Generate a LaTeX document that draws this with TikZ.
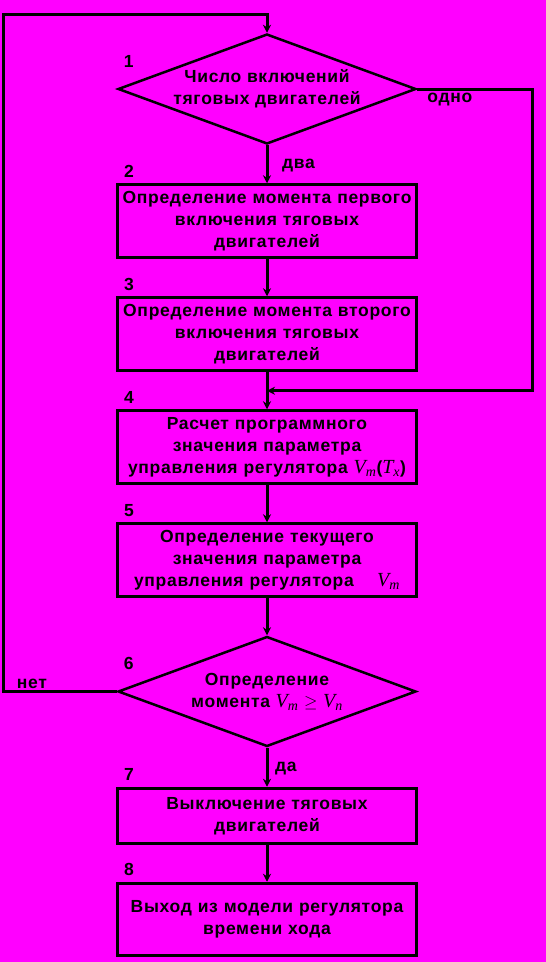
\documentclass[tikz,border=0pt]{standalone}
\usepackage{fontspec}
\setmainfont{Liberation Sans}[BoldFont={Liberation Sans Bold}, LetterSpace=4]
\newfontfamily\serif{Liberation Serif}[ItalicFont={Liberation Serif Italic}]
\usetikzlibrary{positioning, arrows.meta, shapes.geometric, calc}
\definecolor{bgpink}{RGB}{255,0,255}
\newcommand{\txtfont}{\fontsize{17.5}{22}\selectfont\bfseries}
\newcommand{\pv}[2]{{\serif\itshape\mdseries\fontsize{20}{20}\selectfont #1\textsubscript{#2}}}
\tikzset{
  blk/.style={draw, line width=3pt, minimum width=299pt, minimum height=73pt, text width=298pt, align=center, inner sep=0pt, font=\txtfont},
  cond/.style={diamond, draw, line width=2.5pt, minimum width=298pt, minimum height=110pt, aspect=2.7, inner sep=0pt, align=center, font=\txtfont},
  arr/.style={-{Stealth[length=8pt, width=8pt]}, line width=3pt},
  num/.style={font=\txtfont, inner sep=0pt}
}

\begin{document}
\begin{tikzpicture}[x=1pt, y=1pt, node distance=37pt]
\fill[bgpink] (0,0) rectangle (546,-962);
\useasboundingbox (0,0) rectangle (546,-962);
\node[cond] (c1) at (267,-89) {Число включений\\тяговых двигателей};
\node[blk, below=38pt of c1] (s2) {Определение момента первого\\включения тяговых\\двигателей};
\node[blk, below=of s2] (s3) {Определение момента второго\\включения тяговых\\двигателей};
\node[blk, below=of s3] (s4) {Расчет программного\\значения параметра\\управления регулятора \pv{V}{т}(\pv{T}{х})};
\node[blk, below=of s4] (s5) {Определение текущего\\значения параметра\\управления регулятора \quad\pv{V}{т}};
\node[cond, below=of s5] (c6) {Определение\\момента \pv{V}{т} $\geq$ \pv{V}{п}};
\node[blk, below=39pt of c6, minimum height=55pt] (s7) {Выключение тяговых\\двигателей};
\node[blk, below=of s7, minimum height=72pt] (s8) {Выход из модели регулятора\\времени хода};
% step numbers
\foreach \nd/\k in {s2/2, s3/3, s4/4, s5/5, s7/7, s8/8}
  \node[num] (n\k) at ($(\nd.north west)+(13,12)$) {\k};
\foreach \nd/\k in {c1/1, c6/6}
  \node[num] (n\k) at ($(\nd.west)+(12,28)$) {\k};
% main flow
\draw[arr] (c1.south) -- (s2.north);
\foreach \a/\b in {s2/s3, s3/s4, s4/s5, s5/c6, c6/s7, s7/s8}
  \draw[arr] (\a.south) -- (\b.north);
\node[num, anchor=west] (two) at ($(c1.south)+(15,-20)$) {два};
\node[num, anchor=west] (yes) at ($(c6.south)+(8,-21)$) {да};
% branch "one"
\coordinate (jn) at ($(s3.south)!0.5!(s4.north)$);
\coordinate (rc) at ($(c1.east)+(115,0)$);
\coordinate (rb) at (rc |- jn);
\draw[arr] (c1.east) -- (rc) -- (rb) -- (jn);
\node[num, anchor=west] (one) at ($(c1.east)+(10,-11)$) {одно};
% loop back "no"
\coordinate (lt) at (3,-14);
\coordinate (lb) at (lt |- c6.west);
\coordinate (tp) at (c1.north |- lt);
\draw[arr] (c6.west) -- (lb) -- (lt) -- (tp) -- (c1.north);
\node[num] (no) at ($(lb)+(29,8)$) {нет};
\end{tikzpicture}
\end{document}
